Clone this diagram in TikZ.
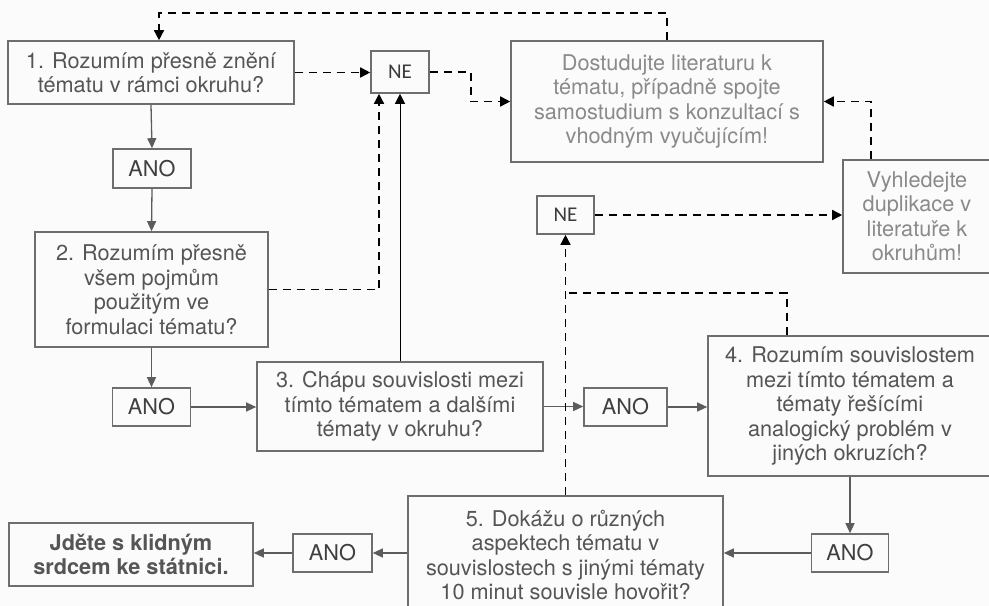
\documentclass[tikz,border=0pt]{standalone}
\usepackage{fontspec}
\setmainfont{TeX Gyre Heros}
\newfontfamily\nefont{Carlito}
\usetikzlibrary{arrows.meta}
\definecolor{bordergray}{HTML}{6E6E6E}
\definecolor{textgray}{HTML}{555555}
\definecolor{lighttext}{HTML}{8A8A8A}
\definecolor{arrowgray}{HTML}{5C5C5C}
\definecolor{netext}{HTML}{3A3A3A}
\definecolor{bgcol}{HTML}{FBFBFB}
\tikzset{
  box/.style={draw=bordergray, line width=1.6bp, rectangle, inner sep=0pt, align=center,
    text=textgray, font=\fontsize{21.7bp}{24.5bp}\selectfont},
  lightbox/.style={box, text=lighttext},
  anobox/.style={box, minimum width=78bp, minimum height=38bp, text=netext!80!textgray},
  nebox/.style={box, text=netext, font=\nefont\fontsize{21bp}{24bp}\selectfont},
  solidarrow/.style={draw=arrowgray, line width=1.3bp, -{Triangle[length=10bp,width=9bp]}},
  dasharrow/.style={draw=black, line width=1.5bp, dash pattern=on 8bp off 6bp, -{Triangle[length=10bp,width=10bp]}},
  dashline/.style={draw=black, line width=1.5bp, dash pattern=on 8bp off 6bp},
  plainline/.style={draw=black, line width=1bp, -{Triangle[length=10bp,width=10bp]}}
}
\begin{document}
\begin{tikzpicture}[x=1bp, y=-1bp]
\fill[bgcol] (0,0) rectangle (989,606);
\useasboundingbox (0,0) rectangle (989,606);

\node[box, minimum width=286bp, minimum height=63bp] (box1) at (151,72.5) {1. Rozumím přesně znění\\tématu v rámci okruhu?};
\node[nebox, minimum width=58bp, minimum height=42bp] (ne1) at (400,72) {NE};
\node[lightbox, minimum width=312bp, minimum height=121bp] (dost) at (667,101.5) {Dostudujte literaturu k\\tématu, případně spojte\\samostudium s konzultací s\\vhodným vyučujícím!};
\node[anobox, minimum height=39bp] (ano1) at (152,168.5) {ANO};
\node[box, minimum width=233bp, minimum height=115bp] (box2) at (151.5,289.5) {2. Rozumím přesně\\všem pojmům\\použitým ve\\formulaci tématu?};
\node[anobox] (ano2) at (151.5,407) {ANO};
\node[box, minimum width=286bp, minimum height=89bp] (box3) at (400,406.5) {3. Chápu souvislosti mezi\\tímto tématem a dalšími\\tématy v okruhu?};
\node[anobox, minimum width=83bp] (ano3) at (625.5,407) {ANO};
\node[box, minimum width=284bp, minimum height=140bp] (box4) at (850,406) {4. Rozumím souvislostem\\mezi tímto tématem a\\tématy řešícími\\analogický problém v\\jiných okruzích?};
\node[nebox, minimum width=57bp, minimum height=38bp] (ne2) at (565.5,215) {NE};
\node[lightbox, minimum width=148bp, minimum height=113bp] (vyhl) at (917,216.5) {Vyhledejte\\duplikace v\\literatuře k\\okruhům!};
\node[anobox, minimum width=77bp] (ano4) at (850,553) {ANO};
\node[box, minimum width=315bp, minimum height=118bp] (box5) at (565.5,555) {5. Dokážu o různých\\aspektech tématu v\\souvislostech s jinými tématy\\10 minut souvisle hovořit?};
\node[anobox, minimum width=79bp] (ano5) at (332.5,553) {ANO};
\node[box, minimum width=244bp, minimum height=63bp, font=\bfseries\fontsize{21.7bp}{24.5bp}\selectfont] (final) at (131,554.5) {Jděte s klidným\\srdcem ke státnici.};

\coordinate (topline) at (400,13);
\coordinate (join) at (565.5,293);

% solid flow
\draw[solidarrow] (box1.south) -- (ano1.north);
\draw[solidarrow] (ano1.south) -- (box2.north);
\draw[solidarrow] (box2.south) -- (ano2.north);
\draw[solidarrow] (ano2.east) -- (ano2.east -| box3.west);
\draw[solidarrow] (box3.east) -- (box3.east -| ano3.west);
\draw[solidarrow] (ano3.east) -- (ano3.east -| box4.west);
\draw[solidarrow] (box4.south) -- (ano4.north);
\draw[solidarrow] (ano4.west) -- (ano4.west -| box5.east);
\draw[solidarrow] (box5.west |- ano5.east) -- (ano5.east);
\draw[solidarrow] (ano5.west) -- (ano5.west -| final.east);

% dashed feedback
\draw[dasharrow] (dost.north) |- (topline) -| ([xshift=8bp]box1.north);
\draw[dasharrow] (box1.east) -- (box1.east -| ne1.west);
\draw[dasharrow] (ne1.east) -- ++(41,0) |- (dost.west);
\draw[dasharrow] (box2.east) -| ([xshift=-21bp]ne1.south);
\draw[plainline] (box3.north) -- (ne1.south);
\draw[dasharrow] (box5.north) -- (ne2.south);
\draw[dashline] ([xshift=-63bp]box4.north) |- (join);
\draw[dasharrow] (ne2.east) -- (ne2.east -| vyhl.west);
\draw[dasharrow] ([xshift=-46bp]vyhl.north) |- (dost.east);
\end{tikzpicture}
\end{document}
